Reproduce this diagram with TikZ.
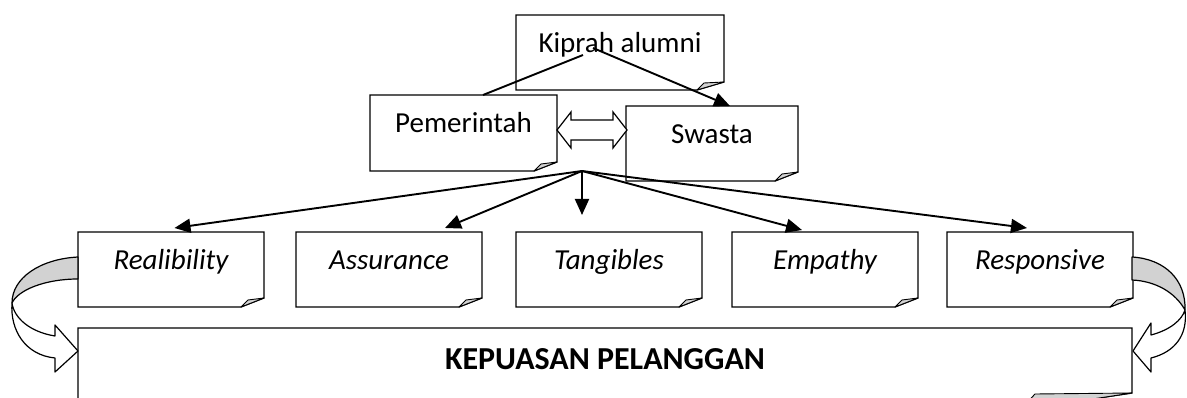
\documentclass[tikz,border=0pt]{standalone}
\usepackage{fontspec}
\setmainfont{Carlito}
\usetikzlibrary{arrows.meta,calc}
\newcommand\foldoutline[3]{%
  \draw[boxline] (#1.north west) -- (#1.north east) -- ([yshift=#3pt]#1.south east)
    -- ([xshift=-#2pt]#1.south east) -- (#1.south west) -- cycle;
  \draw[foldfill] ([xshift=-#2pt]#1.south east) -- ([xshift=-#2pt+7pt,yshift=7pt]#1.south east)
    -- ([yshift=#3pt]#1.south east) -- cycle;
}
\begin{document}
\begin{tikzpicture}[x=1pt,y=-1pt,
  boxnode/.style={draw=none,fill=white,inner sep=0pt,outer sep=0pt,
    font=\fontsize{29}{34}\selectfont,text height=12pt,text depth=12pt},
  itbox/.style={boxnode,font=\itshape\fontsize{29}{34}\selectfont,minimum width=186pt,minimum height=75pt},
  boxline/.style={draw=black,line width=1.3pt,line join=miter},
  foldfill/.style={draw=black,line width=0.9pt,fill=gray!35,line join=round},
  conn/.style={line width=1.9pt,-{Triangle[length=16pt,width=14pt]}},
  plainline/.style={line width=1.9pt},
  band/.style={draw=black,line width=1.2pt,line join=round},
  blockarrow/.style={draw=black,line width=1.2pt,fill=white,line join=miter}]
\useasboundingbox (0,0) rectangle (1187,398);

% top boxes
\node[boxnode,minimum width=208pt,minimum height=75pt] (kip) at (620,52.5) {Kiprah alumni};
\foldoutline{kip}{27}{8}
\node[boxnode,minimum width=187pt,minimum height=76pt] (pem) at (463.5,133) {Pemerintah};
\foldoutline{pem}{23}{9}
\node[boxnode,minimum width=172pt,minimum height=75pt] (swa) at (712,143.5) {Swasta};
\foldoutline{swa}{23}{9}

% dimension row
\node[itbox] (rea) at (171,269.5) {Realibility};
\foldoutline{rea}{23}{9}
\node[itbox] (ass) at (389,269.5) {Assurance};
\foldoutline{ass}{23}{9}
\node[itbox] (tan) at (609,269.5) {Tangibles};
\foldoutline{tan}{23}{9}
\node[itbox] (emp) at (825,269.5) {Empathy};
\foldoutline{emp}{23}{9}
\node[itbox] (res) at (1040,269.5) {Responsive};
\foldoutline{res}{23}{9}

% bottom box
\node[boxnode,font=\bfseries\fontsize{32}{38}\selectfont,minimum width=1054pt,minimum height=82pt] (kep) at (605,369) {KEPUASAN PELANGGAN};
\draw[boxline] (kep.north west) -- (kep.north east) -- (1132,393) -- (1020,410) -- (kep.south west) -- cycle;
\draw[foldfill] (1020,410) -- (1035,394) -- (1132,393) -- cycle;

% connectors from Kiprah alumni
\coordinate (k1) at ($(kip.center)+(-37,2.5)$);
\coordinate (k2) at ($(kip.center)+(-27,-4.5)$);
\draw[plainline] (k1) -- ([xshift=19.5pt]pem.north);
\draw[conn] (k2) -- ([xshift=18pt]swa.north);

% double block arrow between Pemerintah and Swasta
\draw[blockarrow] (557,130) -- (571,112) -- (571,120) -- (613,120) -- (613,112) -- (627,130)
  -- (613,148) -- (613,140) -- (571,140) -- (571,148) -- cycle;

% fan of arrows
\coordinate (fan) at (582,171);
\draw[conn] (fan) -- ([xshift=3.5pt,yshift=4pt]rea.north);
\draw[conn] (fan) -- ([xshift=56pt,yshift=4pt]ass.north);
\draw[conn] (fan) -- ([xshift=-27pt,yshift=17pt]tan.north);
\draw[conn] (fan) -- ([xshift=-23pt,yshift=2pt]emp.north);
\draw[conn] (fan) -- ([xshift=-13pt,yshift=4pt]res.north);

% left curved arrow (Realibility -> Kepuasan)
\draw[band,fill=gray!35] (78,257) .. controls (40,259) and (12,278) .. (12,303)
  .. controls (18,290) and (45,279) .. (78,279) -- cycle;
\draw[band,fill=white] (12,303) .. controls (14,318) and (30,332) .. (55,336)
  -- (55,325) -- (78,351) -- (55,372) -- (55,358)
  .. controls (25,355) and (10,330) .. (12,303) -- cycle;

% right curved arrow (Responsive -> Kepuasan)
\draw[band,fill=gray!35] (1132,257) .. controls (1165,259) and (1186,280) .. (1185,310)
  .. controls (1175,292) and (1155,281) .. (1132,280) -- cycle;
\draw[band,fill=white] (1185,310) .. controls (1188,335) and (1175,352) .. (1151,358)
  -- (1151,372) -- (1133,351) -- (1151,323) -- (1151,335)
  .. controls (1170,330) and (1182,320) .. (1185,310) -- cycle;
\end{tikzpicture}
\end{document}
